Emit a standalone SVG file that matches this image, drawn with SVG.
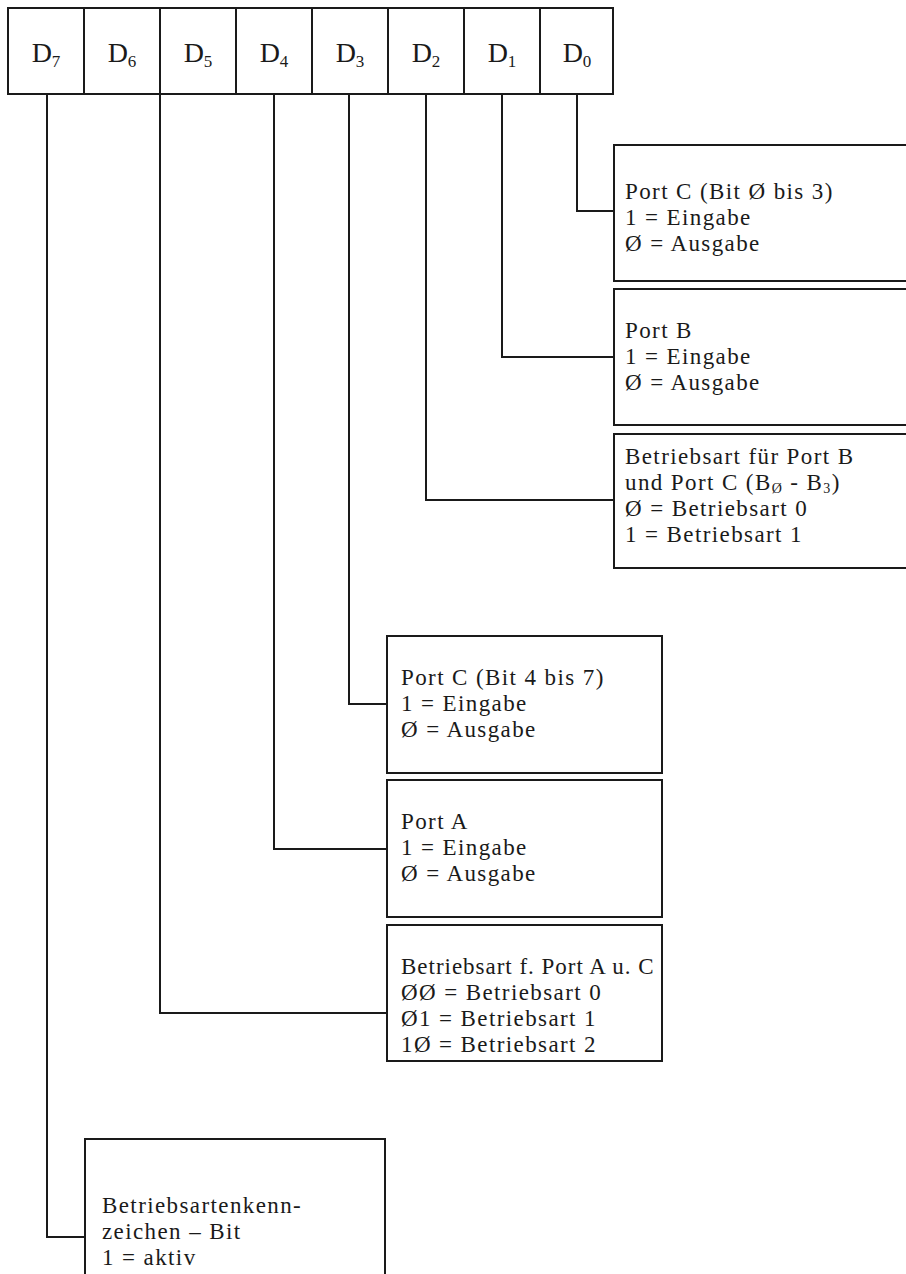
<svg xmlns="http://www.w3.org/2000/svg" width="906" height="1274" viewBox="0 0 906 1274">
<style>
.bx{fill:#fff;stroke:#1a1a1a;stroke-width:2}
.cn{fill:none;stroke:#1a1a1a;stroke-width:2}
.lb{font-family:"Liberation Serif",serif;font-size:28px;fill:#1a1a1a;text-anchor:middle}
.sb{font-size:17px}
.t{font-family:"Liberation Serif",serif;font-size:23px;fill:#1a1a1a;letter-spacing:1.4px}
.s{font-size:14px}
</style>
<rect width="906" height="1274" fill="#fff"/>
<g id="register">
<rect class="bx" x="8" y="8" width="605" height="86"/>
<path class="cn" d="M84 8V94M160 8V94M236 8V94M312 8V94M388 8V94M464 8V94M540 8V94"/>
<text class="lb" x="46" y="62">D<tspan class="sb" dy="5">7</tspan></text>
<text class="lb" x="122" y="62">D<tspan class="sb" dy="5">6</tspan></text>
<text class="lb" x="198" y="62">D<tspan class="sb" dy="5">5</tspan></text>
<text class="lb" x="274" y="62">D<tspan class="sb" dy="5">4</tspan></text>
<text class="lb" x="350" y="62">D<tspan class="sb" dy="5">3</tspan></text>
<text class="lb" x="426" y="62">D<tspan class="sb" dy="5">2</tspan></text>
<text class="lb" x="502" y="62">D<tspan class="sb" dy="5">1</tspan></text>
<text class="lb" x="577" y="62">D<tspan class="sb" dy="5">0</tspan></text>
</g>
<g id="connectors">
<path class="cn" d="M47 94V1237H85"/>
<path class="cn" d="M160 94V1013H387"/>
<path class="cn" d="M274 94V849H387"/>
<path class="cn" d="M349 94V704H387"/>
<path class="cn" d="M426 94V500H614"/>
<path class="cn" d="M502 94V357H614"/>
<path class="cn" d="M577 94V211H614"/>
</g>
<g id="d0">
<rect class="bx" x="614" y="145" width="300" height="136"/>
<text class="t" x="625" y="199">Port C (Bit Ø bis 3)</text>
<text class="t" x="625" y="225">1 = Eingabe</text>
<text class="t" x="625" y="251">Ø = Ausgabe</text>
</g>
<g id="d1">
<rect class="bx" x="614" y="289" width="300" height="136"/>
<text class="t" x="625" y="338">Port B</text>
<text class="t" x="625" y="364">1 = Eingabe</text>
<text class="t" x="625" y="390">Ø = Ausgabe</text>
</g>
<g id="d2">
<rect class="bx" x="614" y="434" width="300" height="134"/>
<text class="t" x="625" y="464">Betriebsart für Port B</text>
<text class="t" x="625" y="490">und Port C (B<tspan class="s" dy="3">Ø</tspan><tspan dy="-3"> - B</tspan><tspan class="s" dy="3">3</tspan><tspan dy="-3">)</tspan></text>
<text class="t" x="625" y="516">Ø = Betriebsart 0</text>
<text class="t" x="625" y="542">1 = Betriebsart 1</text>
</g>
<g id="d3">
<rect class="bx" x="387" y="636" width="275" height="137"/>
<text class="t" x="401" y="685">Port C (Bit 4 bis 7)</text>
<text class="t" x="401" y="711">1 = Eingabe</text>
<text class="t" x="401" y="737">Ø = Ausgabe</text>
</g>
<g id="d4">
<rect class="bx" x="387" y="780" width="275" height="137"/>
<text class="t" x="401" y="829">Port A</text>
<text class="t" x="401" y="855">1 = Eingabe</text>
<text class="t" x="401" y="881">Ø = Ausgabe</text>
</g>
<g id="d65">
<rect class="bx" x="387" y="925" width="275" height="136"/>
<text class="t" x="401" y="974" textLength="254" lengthAdjust="spacing">Betriebsart f. Port A u. C</text>
<text class="t" x="401" y="1000">ØØ = Betriebsart 0</text>
<text class="t" x="401" y="1026">Ø1 = Betriebsart 1</text>
<text class="t" x="401" y="1052">1Ø = Betriebsart 2</text>
</g>
<g id="d7">
<rect class="bx" x="85" y="1139" width="300" height="150"/>
<text class="t" x="102" y="1213">Betriebsartenkenn-</text>
<text class="t" x="102" y="1239">zeichen – Bit</text>
<text class="t" x="102" y="1265">1 = aktiv</text>
</g>
</svg>
